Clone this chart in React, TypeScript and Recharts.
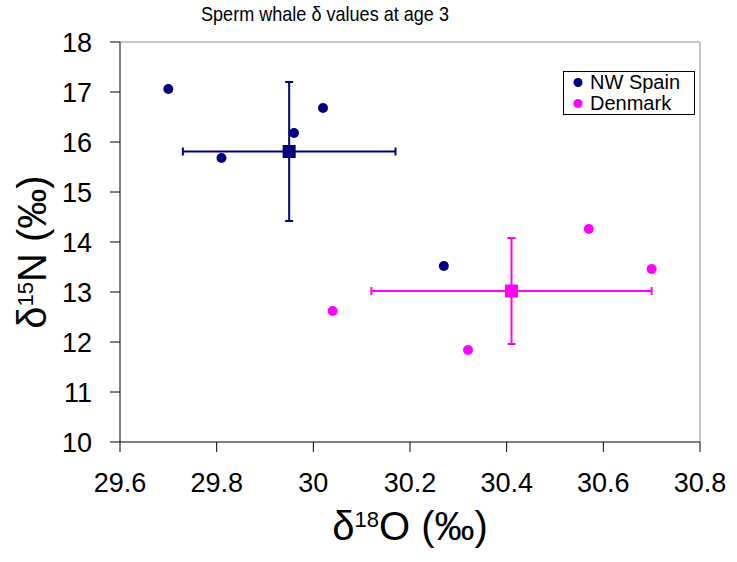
import React from 'react';
import { ScatterChart, Scatter, XAxis, YAxis, ErrorBar, ReferenceLine, Label } from 'recharts';

const spainX = [29.7, 29.81, 29.96, 30.02, 30.27];
const spainY = [17.06, 15.68, 16.18, 16.68, 13.52];
const denmarkX = [30.04, 30.32, 30.57, 30.7];
const denmarkY = [12.62, 11.84, 14.26, 13.46];
const meanX = [29.95, 30.41];
const meanY = [15.81, 13.02];
const errX = [0.22, 0.29];
const errY = [1.39, 1.06];
const xTicks = [29.6, 29.8, 30, 30.2, 30.4, 30.6, 30.8];
const yTicks = [10, 11, 12, 13, 14, 15, 16, 17, 18];
const seriesNames = ['NW Spain', 'Denmark'];
const colors = ['#000080', '#FF00FF'];
const titleText = 'Sperm whale \u03b4 values at age 3';

const FONT = '"Liberation Sans", Arial, sans-serif';

const spainData = spainX.map((x, i) => ({ x, y: spainY[i] }));
const denmarkData = denmarkX.map((x, i) => ({ x, y: denmarkY[i] }));
const meanData = meanX.map((x, i) => ({ x, y: meanY[i], ex: errX[i], ey: errY[i] }));

const Dot = (props: any) => <circle cx={props.cx} cy={props.cy} r={5} fill={props.fill} />;
const Square = (props: any) => (
  <rect x={props.cx - 6.5} y={props.cy - 6.5} width={13} height={13} fill={props.fill} />
);

const LegendBox = () => (
  <div
    style={{
      position: 'absolute',
      left: 563,
      top: 71,
      width: 130,
      border: '1px solid #000',
      background: '#fff',
      fontFamily: FONT,
      fontSize: 20,
      lineHeight: '21px',
      padding: '0',
      zIndex: 2,
    }}
  >
    {seriesNames.map((n, i) => (
      <div key={n} style={{ display: 'flex', alignItems: 'center', height: 21 }}>
        <svg width={26} height={21} style={{ display: 'block' }}>
          <circle cx={14} cy={10.5} r={4.5} fill={colors[i]} />
        </svg>
        <span style={{ color: '#000' }}>{n}</span>
      </div>
    ))}
  </div>
);

export default function App() {
  return (
    <div style={{ position: 'absolute', left: 0, top: 0, width: 737, height: 562, background: '#fff' }}>
      <div
        style={{
          position: 'absolute',
          left: 0,
          top: 1,
          width: 650,
          textAlign: 'center',
          fontFamily: FONT,
          fontSize: 21,
          lineHeight: '26px',
          color: '#000',
          zIndex: 2,
          transform: 'scaleX(0.86)',
          transformOrigin: '325px 50%',
        }}
      >
        {titleText}
      </div>
      <LegendBox />
      <ScatterChart width={737} height={562} margin={{ top: 42, right: 37, bottom: 0, left: 0 }}>
        <XAxis
          type="number"
          dataKey="x"
          domain={[29.6, 30.8]}
          ticks={xTicks}
          allowDataOverflow
          height={120}
          tickSize={10}
          tickMargin={21}
          axisLine={{ stroke: '#000' }}
          tickLine={{ stroke: '#000' }}
          tick={{ fontSize: 27, fill: '#000', fontFamily: FONT }}
        >
          <Label
            content={() => (
              <text x={410} y={540} textAnchor="middle" fontFamily={FONT} fontSize={40} fill="#000">
                <tspan>{'\u03b4'}</tspan>
                <tspan fontSize={22} dy={-13}>18</tspan>
                <tspan dy={13}>{'O (\u2030)'}</tspan>
              </text>
            )}
          />
        </XAxis>
        <YAxis
          type="number"
          dataKey="y"
          domain={[10, 18]}
          ticks={yTicks}
          allowDataOverflow
          width={120}
          tickSize={10}
          tickMargin={18}
          axisLine={{ stroke: '#000' }}
          tickLine={{ stroke: '#000' }}
          tick={{ fontSize: 27, fill: '#000', fontFamily: FONT }}
        >
          <Label
            content={() => (
              <text
                x={46}
                y={252}
                textAnchor="middle"
                transform="rotate(-90, 46, 252)"
                fontFamily={FONT}
                fontSize={40}
                fill="#000"
              >
                <tspan>{'\u03b4'}</tspan>
                <tspan fontSize={22} dy={-13}>15</tspan>
                <tspan dy={13}>{'N (\u2030)'}</tspan>
              </text>
            )}
          />
        </YAxis>
        <ReferenceLine y={18} stroke="#8c8c8c" strokeWidth={1} />
        <ReferenceLine x={30.8} stroke="#8c8c8c" strokeWidth={1} />
        <Scatter name={seriesNames[0]} data={spainData} fill={colors[0]} shape={Dot} isAnimationActive={false} />
        <Scatter name={seriesNames[1]} data={denmarkData} fill={colors[1]} shape={Dot} isAnimationActive={false} />
        <Scatter
          name="NW Spain mean"
          data={[meanData[0]]}
          fill={colors[0]}
          shape={Square}
          isAnimationActive={false}
          legendType="none"
        >
          <ErrorBar dataKey="ex" direction="x" width={4} stroke={colors[0]} strokeWidth={2} />
          <ErrorBar dataKey="ey" direction="y" width={4} stroke={colors[0]} strokeWidth={2} />
        </Scatter>
        <Scatter
          name="Denmark mean"
          data={[meanData[1]]}
          fill={colors[1]}
          shape={Square}
          isAnimationActive={false}
          legendType="none"
        >
          <ErrorBar dataKey="ex" direction="x" width={4} stroke={colors[1]} strokeWidth={2} />
          <ErrorBar dataKey="ey" direction="y" width={4} stroke={colors[1]} strokeWidth={2} />
        </Scatter>
      </ScatterChart>
    </div>
  );
}
